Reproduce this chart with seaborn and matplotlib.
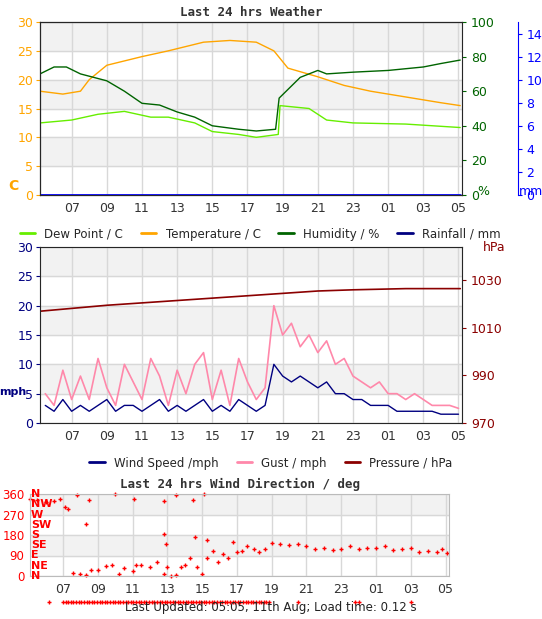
import numpy as np
import pandas as pd
import matplotlib
matplotlib.use('Agg')
import matplotlib.pyplot as plt
import seaborn as sns
from matplotlib.lines import Line2D

sns.set_style('white')
plt.rcParams['font.family'] = ['DejaVu Sans']
plt.rcParams['font.size'] = 8

# ============ DADOS ============
t_temp = [5.2, 6.5, 7.5, 8, 9, 11, 12.5, 14.5, 16, 17.5, 18.5, 19.3, 21, 22.5, 24, 26, 28, 29.1]
temp = [18, 17.5, 18, 20, 22.5, 24, 25, 26.5, 26.8, 26.5, 25, 22, 20.5, 19, 18, 17, 16, 15.5]
t_dew = [5.2, 7, 8.5, 10, 11.5, 12.5, 14, 15, 16.5, 17.5, 18.75, 18.85, 20.5, 21.5, 23, 26, 29.1]
dew = [12.5, 13, 14, 14.5, 13.5, 13.5, 12.5, 11, 10.5, 10, 10.5, 15.5, 15, 13, 12.5, 12.3, 11.7]
t_hum = [5.2, 6, 6.7, 7.5, 9, 10, 11, 12, 13, 14, 15, 16.5, 17.5, 18.6, 18.8, 20, 21, 21.5, 23, 25, 27, 28, 29.1]
hum = [70, 74, 74, 70, 66, 60, 53, 52, 48, 45, 40, 38, 37, 38, 56, 68, 72, 70, 71, 72, 74, 76, 78]
t_rain = [5.2, 29.1]
rain = [0, 0]

t_wind = list(np.arange(5.5, 29.1, 0.5))
wind = [3, 2, 4, 2, 3, 2, 3, 4, 2, 3, 3, 2, 3, 4, 2, 3, 2, 3, 4, 2, 3, 2, 4, 3, 2, 3, 10, 8, 7, 8, 7, 6, 7, 5, 5, 4, 4, 3, 3, 3, 2, 2, 2, 2, 2, 1.5, 1.5, 1.5]
gust = [5, 3, 9, 4, 8, 4, 11, 6, 3, 10, 7, 4, 11, 8, 3, 9, 5, 10, 12, 4, 9, 3, 11, 7, 4, 6, 20, 15, 17, 13, 15, 12, 14, 10, 11, 8, 7, 6, 7, 5, 5, 4, 5, 4, 3, 3, 3, 2.5]
t_pres = [5.2, 9, 13, 17, 19, 21, 23, 26, 29.1]
pres = [1017, 1019.5, 1021.5, 1023.5, 1024.5, 1025.5, 1026, 1026.5, 1026.5]

t_dir = [5.1, 5.5, 6, 6.5, 6.8, 7.1, 7.3, 7.6, 8, 8.3, 8.6, 9, 9.5, 9.8, 10.2, 10.5, 11, 11.2, 11.5, 12, 12.4, 12.8, 13, 13.2,
         13.5, 13.8, 14, 14.3, 14.7, 15, 15.3, 15.6, 15.9, 16.2, 16.5, 16.8, 17, 17.3, 17.6, 18, 18.3, 18.6, 19, 19.5, 20, 20.5,
         21, 21.5, 22, 22.5, 23, 23.5, 24, 24.5, 25, 25.5, 26, 26.5, 27, 27.5, 28, 28.5, 28.8, 29.1,
         7.8, 8.5, 10, 11.1, 12.8, 13.5, 14.5, 15.1, 12.8, 12.9, 14.6, 15.3, 8.3]
wdir = [340, 335, 325, 330, 340, 305, 295, 15, 10, 5, 25, 25, 45, 50, 10, 35, 20, 50, 50, 40, 60, 10, 40, 0, 5, 40, 50, 80, 40, 10,
        80, 110, 60, 95, 80, 150, 105, 110, 130, 120, 105, 120, 145, 140, 135, 140, 130, 120, 125, 115, 120, 130, 120, 125,
        125, 130, 115, 120, 125, 105, 110, 105, 120, 100,
        355, 335, 360, 340, 330, 355, 335, 360, 185, 140, 170, 160, 230]
t_calm = list(np.arange(7.0, 18.9, 0.15)) + [6.2, 20.5, 23.8, 24, 27]
calm = [-115] * len(t_calm)

hours = [7, 9, 11, 13, 15, 17, 19, 21, 23, 25, 27, 29]
hour_labels = ['07', '09', '11', '13', '15', '17', '19', '21', '23', '01', '03', '05']

GRID = '#d8d8d8'
BAND = '#f2f2f2'
W, H = 542, 619
fig = plt.figure(figsize=(W / 100, H / 100), dpi=100)


def ax_at(l, t, r, b):
    return fig.add_axes([l / W, 1 - b / H, (r - l) / W, (b - t) / H])


def style(ax, bands, xlim):
    ax.set_xlim(*xlim)
    for lo, hi in bands:
        ax.axhspan(lo, hi, color=BAND, zorder=0)
    ax.set_xticks(hours)
    ax.set_xticklabels(hour_labels, color='#333333', fontsize=9)
    ax.grid(True, color=GRID, lw=1)
    for s in ax.spines.values():
        s.set_color('#bbbbbb')
    ax.tick_params(length=3, pad=2)


title_kw = dict(family='DejaVu Sans Mono', fontweight='bold', fontsize=9, color='#333333')

# ---- Painel 1 ----
ax1 = ax_at(40, 22, 462, 195)
style(ax1, [(25, 30), (15, 20), (5, 10)], (5.2, 29.2))
ax1.set_ylim(0, 30)
ax1.set_yticks(range(0, 31, 5))
ax1.tick_params(axis='y', colors='orange', labelsize=9)
ax1.set_title('Last 24 hrs Weather', pad=4, **title_kw)
sns.lineplot(x=t_temp, y=temp, ax=ax1, color='orange', lw=1)
sns.lineplot(x=t_dew, y=dew, ax=ax1, color='#66ee00', lw=1)
ax1.text(-0.075, 0.03, 'C', transform=ax1.transAxes, color='orange', fontsize=10, fontweight='bold')
ax1h = ax1.twinx()
ax1h.set_ylim(0, 100)
ax1h.set_yticks(range(0, 101, 20))
ax1h.tick_params(axis='y', colors='darkgreen', labelsize=9, length=3)
sns.lineplot(x=t_hum, y=hum, ax=ax1h, color='darkgreen', lw=1)
ax1h.text(1.035, 0.0, '%', transform=ax1h.transAxes, color='darkgreen', fontsize=9)
ax1r = ax1.twinx()
ax1r.spines['right'].set_position(('outward', 40))
ax1r.spines['right'].set_color('blue')
ax1r.set_ylim(0, 15)
ax1r.set_yticks(range(0, 15, 2))
ax1r.tick_params(axis='y', colors='blue', labelsize=9, length=3)
sns.lineplot(x=t_rain, y=rain, ax=ax1r, color='blue', lw=2)
ax1r.text(1.135, 0.0, 'mm', transform=ax1r.transAxes, color='blue', fontsize=9)
ax1.set_xlim(5.2, 29.2)
leg1 = [Line2D([], [], color=c, lw=2) for c in ['#66ee00', 'orange', 'darkgreen', 'navy']]
fig.legend(leg1, ['Dew Point / C', 'Temperature / C', 'Humidity / %', 'Rainfall / mm'],
           loc='center', bbox_to_anchor=(0.48, 1 - 234 / H), ncol=4, frameon=False,
           fontsize=8.5, handlelength=1.3, columnspacing=1.5)

# ---- Painel 2 ----
ax2 = ax_at(40, 247, 462, 423)
style(ax2, [(25, 30), (15, 20), (5, 10)], (5.2, 29.2))
ax2.set_ylim(0, 29)
ax2.set_yticks(range(0, 31, 5))
ax2.tick_params(axis='y', colors='navy', labelsize=9)
sns.lineplot(x=t_wind, y=gust, ax=ax2, color='#ff88aa', lw=1.2)
sns.lineplot(x=t_wind, y=wind, ax=ax2, color='navy', lw=1)
ax2.text(-0.098, 0.16, 'mph', transform=ax2.transAxes, color='navy', fontsize=8, fontweight='bold', ha='left')
ax2p = ax2.twinx()
ax2p.set_ylim(970, 1044)
ax2p.set_yticks([970, 990, 1010, 1030])
ax2p.tick_params(axis='y', colors='darkred', labelsize=9, length=3)
sns.lineplot(x=t_pres, y=pres, ax=ax2p, color='darkred', lw=1.2)
ax2p.text(1.05, 0.98, 'hPa', transform=ax2p.transAxes, color='darkred', fontsize=9)
ax2.set_xlim(5.2, 29.2)
leg2 = [Line2D([], [], color=c, lw=2) for c in ['navy', '#ff88aa', 'darkred']]
fig.legend(leg2, ['Wind Speed /mph', 'Gust / mph', 'Pressure / hPa'],
           loc='center', bbox_to_anchor=(0.5, 1 - 463 / H), ncol=3, frameon=False,
           fontsize=8.5, handlelength=1.3, columnspacing=1.5)

# ---- Painel 3 ----
ax3 = ax_at(30, 494, 449, 576)
style(ax3, [(270, 360), (90, 180)], (5.1, 29.2))
ax3.set_ylim(0, 360)
ax3.set_yticks([0, 90, 180, 270, 360])
ax3.tick_params(axis='y', colors='red', labelsize=8.5, pad=1)
ax3.set_title('Last 24 hrs Wind Direction / deg', pad=4, **title_kw)
sns.scatterplot(x=t_dir, y=wdir, ax=ax3, color='red', marker='+', s=12, linewidth=1, clip_on=False)
sns.scatterplot(x=t_calm, y=calm, ax=ax3, color='red', marker='+', s=10, linewidth=1, clip_on=False)
for i, lab in enumerate(['N', 'NE', 'E', 'SE', 'S', 'SW', 'W', 'NW', 'N']):
    ax3.text(0.002, i * 45, lab, color='red', fontweight='bold', fontsize=8, va='center',
             transform=ax3.get_yaxis_transform())
fig.text(0.5, 1 - 607 / H, "Last Updated: 05:05, 11th Aug; Load time: 0.12 s",
         ha='center', va='center', fontsize=8.5, color='#222222')

plt.savefig('out.png', dpi=100)
